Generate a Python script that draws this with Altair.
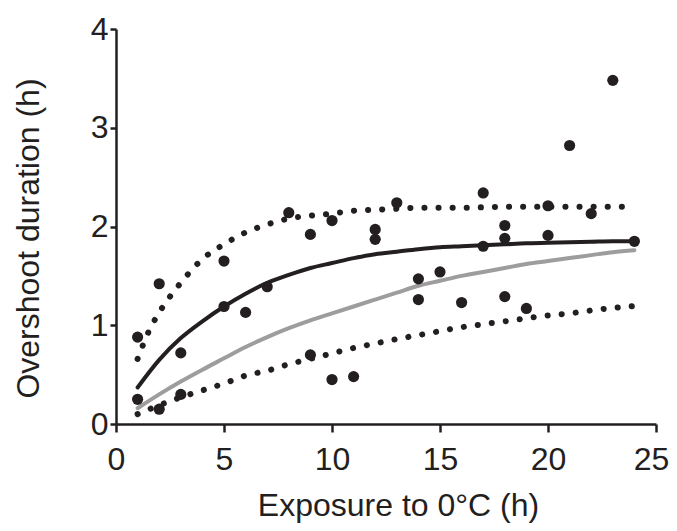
import altair as alt
import pandas as pd

# Scatter data (exposure h, overshoot h)
pt_x = [1, 1, 2, 2, 3, 3, 5, 5, 6, 7, 8, 9, 9, 10, 10, 11, 12, 12, 13, 14, 14,
        15, 16, 17, 17, 18, 18, 18, 19, 20, 20, 21, 22, 23, 24]
pt_y = [0.88, 0.25, 1.42, 0.15, 0.72, 0.30, 1.65, 1.19, 1.13, 1.39, 2.14, 1.92,
        0.70, 2.06, 0.45, 0.48, 1.97, 1.87, 2.24, 1.47, 1.26, 1.54, 1.23, 2.34,
        1.80, 2.01, 1.88, 1.29, 1.17, 2.21, 1.91, 2.82, 2.13, 3.48, 1.85]

# Fitted curves
fit_x = [1, 2, 3, 4, 5, 6, 7, 8, 9, 10, 11, 12, 13, 14, 15, 16, 17, 18, 19, 20,
         21, 22, 23, 24]
black_y = [0.37, 0.65, 0.87, 1.04, 1.19, 1.32, 1.43, 1.51, 1.58, 1.63, 1.68, 1.72,
           1.745, 1.77, 1.79, 1.80, 1.81, 1.82, 1.83, 1.835, 1.84, 1.845, 1.85, 1.85]
gray_y = [0.16, 0.30, 0.43, 0.55, 0.665, 0.78, 0.88, 0.97, 1.05, 1.12, 1.19, 1.26,
          1.33, 1.40, 1.45, 1.50, 1.54, 1.58, 1.62, 1.65, 1.68, 1.71, 1.74, 1.76]
lower_y = [0.10, 0.19, 0.27, 0.34, 0.41, 0.49, 0.54, 0.605, 0.66, 0.715, 0.77, 0.815,
           0.86, 0.90, 0.94, 0.98, 1.01, 1.04, 1.07, 1.10, 1.12, 1.15, 1.175, 1.195]
upper_x = [1, 1.5, 2, 2.5, 3, 4, 5, 6, 7, 8, 9, 10, 11, 12, 13, 14, 16, 18, 20, 22, 23.5]
upper_y = [0.66, 0.93, 1.13, 1.29, 1.43, 1.67, 1.82, 1.94, 2.02, 2.08, 2.11, 2.13,
           2.16, 2.17, 2.18, 2.19, 2.19, 2.20, 2.20, 2.20, 2.20]

x_ticks = [0, 5, 10, 15, 20, 25]
y_ticks = [0, 1, 2, 3, 4]

INK = "#231f20"
FONT = "Liberation Sans"

xs = alt.Scale(domain=[0, 25], nice=False)
ys = alt.Scale(domain=[0, 4], nice=False)

x_axis = alt.Axis(values=x_ticks, title="Exposure to 0°C (h)", grid=False,
                  tickSize=8, labelPadding=12, labelFlush=False, labelOverlap=False,
                  labelOffset={"condition": {"test": "datum.value == 25", "value": -5},
                               "value": 0},
                  titleX=282, titleY=91, titleBaseline="alphabetic", titleAlign="center")
y_axis = alt.Axis(values=y_ticks, title="Overshoot duration (h)", grid=False,
                  tickSize=6, labelPadding=2, labelFlush=False, labelOverlap=False,
                  titleAngle=270, titleX=-78, titleY=209, titleBaseline="alphabetic",
                  titleAlign="center")

df_black = pd.DataFrame({"x": fit_x, "y": black_y})
df_gray = pd.DataFrame({"x": fit_x, "y": gray_y})
df_lower = pd.DataFrame({"x": fit_x, "y": lower_y})
df_upper = pd.DataFrame({"x": upper_x, "y": upper_y})
df_pts = pd.DataFrame({"x": pt_x, "y": pt_y})

def line(df, color, width, dotted=False):
    kw = dict(color=color, strokeWidth=width, interpolate="monotone", strokeCap="round")
    if dotted:
        kw["strokeDash"] = [0.1, 14]
    return alt.Chart(df).mark_line(**kw).encode(
        x=alt.X("x:Q", scale=xs, axis=x_axis),
        y=alt.Y("y:Q", scale=ys, axis=y_axis),
    )

pts = alt.Chart(df_pts).mark_circle(size=125, color=INK, opacity=1).encode(
    x=alt.X("x:Q", scale=xs, axis=x_axis),
    y=alt.Y("y:Q", scale=ys, axis=y_axis),
)

chart = alt.layer(
    line(df_gray, "#9d9d9d", 4),
    line(df_black, INK, 4),
    line(df_upper, INK, 6, dotted=True),
    line(df_lower, INK, 6, dotted=True),
    pts,
).properties(
    width=540, height=395,
    padding={"left": 108, "top": 21, "right": 13, "bottom": 99},
    autosize=alt.AutoSizeParams(type="none"),
).configure_view(stroke=None).configure_axis(
    domainColor=INK, domainWidth=2.5, tickColor=INK, tickWidth=2.5,
    labelFont=FONT, labelFontSize=32, labelColor=INK,
    titleFont=FONT, titleFontSize=32, titleColor=INK, titleFontWeight="normal",
)

chart.save("out.html", embed_options={"renderer": "svg", "actions": False})
